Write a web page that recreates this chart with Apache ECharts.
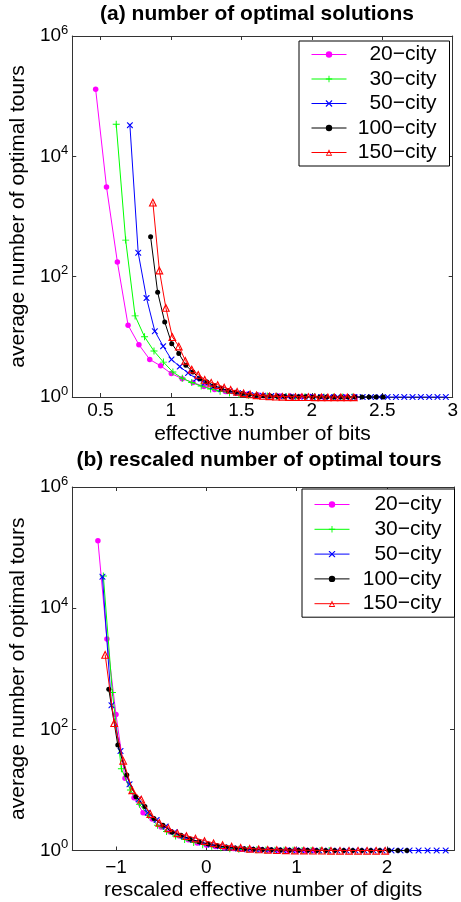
<!DOCTYPE html>
<html><head><meta charset="utf-8">
<script src="https://cdn.jsdelivr.net/npm/echarts@6/dist/echarts.min.js"></script>
<style>html,body{margin:0;padding:0;background:#fff}#c{width:461px;height:902px}</style>
</head><body><div id="c"></div>
<script>
// ---- data ----
const SERIES_NAMES = ['20−city', '30−city', '50−city', '100−city', '150−city'];

const X_BITS_20 = [0.466, 0.543, 0.620, 0.696, 0.773, 0.850, 0.927, 1.003, 1.080, 1.157, 1.234, 1.310, 1.387, 1.464, 1.541, 1.618, 1.694, 1.771, 1.848, 1.925, 2.001, 2.078, 2.155, 2.232, 2.309];
const X_RESC_20 = [-1.2, -1.1, -1.0, -0.9, -0.8, -0.7, -0.6, -0.5, -0.4, -0.3, -0.2, -0.1, 0, 0.1, 0.2, 0.3, 0.4, 0.5, 0.6, 0.7, 0.8, 0.9, 1.0, 1.1, 1.2];
const Y_20 = [130000, 3100, 176, 15.6, 7.4, 4.2, 3.3, 2.45, 2.02, 1.74, 1.5, 1.33, 1.23, 1.16, 1.11, 1.075, 1.05, 1.035, 1.025, 1.017, 1.012, 1.008, 1.005, 1.003, 1.002];

const X_BITS_30 = [0.612, 0.679, 0.746, 0.813, 0.880, 0.947, 1.014, 1.081, 1.148, 1.215, 1.282, 1.349, 1.416, 1.483, 1.550, 1.617, 1.684, 1.751, 1.818, 1.885, 1.952, 2.019, 2.086, 2.153, 2.220, 2.287];
const X_RESC_30 = [-1.14, -1.04, -0.94, -0.84, -0.74, -0.64, -0.54, -0.44, -0.34, -0.24, -0.14, -0.04, 0.06, 0.16, 0.26, 0.36, 0.46, 0.56, 0.66, 0.76, 0.86, 0.96, 1.06, 1.16, 1.26, 1.36];
const Y_30 = [34000, 405, 22.3, 10, 5.8, 3.8, 2.6, 2.05, 1.74, 1.52, 1.36, 1.25, 1.17, 1.11, 1.07, 1.05, 1.035, 1.025, 1.018, 1.012, 1.008, 1.005, 1.003, 1.002, 1.001, 1.0];

const X_BITS_50 = [0.709, 0.768, 0.827, 0.886, 0.945, 1.004, 1.063, 1.122, 1.181, 1.240, 1.299, 1.358, 1.417, 1.476, 1.535, 1.594, 1.653, 1.712, 1.771, 1.830, 1.889, 1.948, 2.007, 2.066, 2.125, 2.184, 2.243, 2.302, 2.361, 2.420, 2.479, 2.538, 2.597, 2.656, 2.715, 2.774, 2.833, 2.892, 2.951];
const X_RESC_50 = [-1.15, -1.05, -0.95, -0.85, -0.75, -0.65, -0.55, -0.45, -0.35, -0.25, -0.15, -0.05, 0.05, 0.15, 0.25, 0.35, 0.45, 0.55, 0.65, 0.75, 0.85, 0.95, 1.05, 1.15, 1.25, 1.35, 1.45, 1.55, 1.65, 1.75, 1.85, 1.95, 2.05, 2.15, 2.25, 2.35, 2.45, 2.55, 2.65];
const Y_50 = [33000, 249, 44, 12.4, 7.0, 4.2, 3.2, 2.5, 2.02, 1.72, 1.5, 1.35, 1.25, 1.17, 1.12, 1.08, 1.05, 1.035, 1.025, 1.018, 1.012, 1.008, 1.005, 1.003, 1.002, 1.001, 1, 1, 1, 1, 1, 1, 1, 1, 1, 1, 1, 1, 1];

const X_BITS_100 = [0.856, 0.906, 0.956, 1.006, 1.056, 1.106, 1.156, 1.206, 1.256, 1.306, 1.356, 1.406, 1.456, 1.506, 1.556, 1.606, 1.656, 1.706, 1.756, 1.806, 1.856, 1.906, 1.956, 2.006, 2.056, 2.106, 2.156, 2.206, 2.256, 2.306, 2.356, 2.406, 2.456, 2.506];
const X_RESC_100 = [-1.08, -0.98, -0.88, -0.78, -0.68, -0.58, -0.48, -0.38, -0.28, -0.18, -0.08, 0.02, 0.12, 0.22, 0.32, 0.42, 0.52, 0.62, 0.72, 0.82, 0.92, 1.02, 1.12, 1.22, 1.32, 1.42, 1.52, 1.62, 1.72, 1.82, 1.92, 2.02, 2.12, 2.22];
const Y_100 = [460, 55, 17.7, 7.7, 5.3, 3.37, 2.6, 2.02, 1.78, 1.55, 1.4, 1.28, 1.2, 1.14, 1.1, 1.07, 1.05, 1.035, 1.025, 1.018, 1.012, 1.008, 1.005, 1.003, 1.002, 1.001, 1, 1, 1, 1, 1, 1, 1, 1];

const X_BITS_150 = [0.872, 0.918, 0.964, 1.010, 1.056, 1.102, 1.148, 1.194, 1.240, 1.286, 1.332, 1.378, 1.424, 1.470, 1.516, 1.562, 1.608, 1.654, 1.700, 1.746, 1.792, 1.838, 1.884, 1.930, 1.976, 2.022, 2.068, 2.114, 2.160, 2.206, 2.252, 2.298];
const X_RESC_150 = [-1.12, -1.02, -0.92, -0.82, -0.72, -0.62, -0.52, -0.42, -0.32, -0.22, -0.12, -0.02, 0.08, 0.18, 0.28, 0.38, 0.48, 0.58, 0.68, 0.78, 0.88, 0.98, 1.08, 1.18, 1.28, 1.38, 1.48, 1.58, 1.68, 1.78, 1.88, 1.98];
const Y_150 = [1718, 128, 30.7, 10, 7.0, 4.05, 2.9, 2.36, 1.95, 1.75, 1.6, 1.45, 1.33, 1.24, 1.17, 1.12, 1.08, 1.055, 1.04, 1.028, 1.02, 1.014, 1.01, 1.007, 1.005, 1.003, 1.002, 1.001, 1, 1, 1, 1];

const X_TICKS_TOP = [0.5, 1, 1.5, 2, 2.5, 3];
const X_TICKS_BOTTOM = [-1, 0, 1, 2];

// ---- styles ----
const FONT = 'Liberation Sans, Arial, Helvetica, sans-serif';
const COLORS = ['#ff00ff', '#00ff00', '#0000ff', '#000000', '#ff0000'];
const PLUS = 'path://M4.3,0H5.7V4.3H10V5.7H5.7V10H4.3V5.7H0V4.3H4.3Z';
const CROSS = 'path://M0,0L1.3,0L5,3.7L8.7,0L10,0L10,1.3L6.3,5L10,8.7L10,10L8.7,10L5,6.3L1.3,10L0,10L0,8.7L3.7,5L0,1.3Z';
const TRI = 'path://M5,0L10,9L0,9ZM5,2.6L2.1,7.8L7.9,7.8Z';
const SYMBOLS = ['circle', PLUS, CROSS, 'circle', TRI];
const SIZES = [5.5, 7, 6, 5, 8.5];

const XS_TOP = [X_BITS_20, X_BITS_30, X_BITS_50, X_BITS_100, X_BITS_150];
const XS_BOT = [X_RESC_20, X_RESC_30, X_RESC_50, X_RESC_100, X_RESC_150];
const YS = [Y_20, Y_30, Y_50, Y_100, Y_150];

const AX = '#333';
function xAx(grid, pos, min, max, ticks, name, gap, margin) {
  const isMain = pos === 'bottom';
  return {
    type: 'value', gridIndex: grid, position: pos, min: min, max: max,
    axisLine: { show: true, onZero: false, lineStyle: { color: AX, width: 1 } },
    axisTick: { show: true, inside: true, length: 4, customValues: ticks, lineStyle: { color: AX } },
    axisLabel: { show: isMain, customValues: ticks, margin: margin, fontSize: 19, fontFamily: FONT, color: '#000',
      formatter: v => String(v).replace('-', '−') },
    splitLine: { show: false },
    name: isMain ? name : '', nameLocation: 'middle', nameGap: gap,
    nameTextStyle: { fontSize: 21, fontFamily: FONT, color: '#000' }
  };
}
function yAx(grid, pos) {
  const isMain = pos === 'left';
  return {
    type: 'log', logBase: 100, gridIndex: grid, position: pos, min: 1, max: 1000000,
    axisLine: { show: true, onZero: false, lineStyle: { color: AX, width: 1 } },
    axisTick: { show: true, inside: true, length: 4, lineStyle: { color: AX } },
    minorTick: { show: false },
    axisLabel: { show: isMain, margin: 4, color: '#000',
      formatter: v => '{b|10}{s|' + Math.round(Math.log10(v)) + '}',
      rich: { b: { fontSize: 19, fontFamily: FONT, color: '#000' },
              s: { fontSize: 13, fontFamily: FONT, color: '#000', padding: [0, 0, 12, 0] } } },
    splitLine: { show: false },
    name: isMain ? 'average number of optimal tours' : '', nameLocation: 'middle', nameGap: 39.5,
    nameTextStyle: { fontSize: 21, fontFamily: FONT, color: '#000' }
  };
}
function legend(left, top, pad, w, gap) {
  return {
    data: SERIES_NAMES, orient: 'vertical', left: left, top: top, padding: pad,
    borderColor: '#000', borderWidth: 1, borderRadius: 0, backgroundColor: '#fff',
    itemWidth: 35, itemHeight: 8, itemGap: gap, itemTextGap: 5,
    selectedMode: false,
    lineStyle: { width: 1 },
    formatter: n => '{t|' + n + '}',
    textStyle: { width: w, fontSize: 21, fontFamily: FONT, color: '#000', lineHeight: 20,
      rich: { t: { align: 'right', fontSize: 21, fontFamily: FONT, color: '#000', lineHeight: 20 } } }
  };
}
const series = [];
[0, 1].forEach(g => {
  SERIES_NAMES.forEach((name, i) => {
    const xs = g === 0 ? XS_TOP[i] : XS_BOT[i];
    series.push({
      name: name, type: 'line', xAxisIndex: g * 2, yAxisIndex: g * 2,
      data: xs.map((x, k) => [x, YS[i][k]]),
      symbol: SYMBOLS[i], symbolSize: SIZES[i], showAllSymbol: true,
      lineStyle: { width: 1, color: COLORS[i] },
      itemStyle: { color: COLORS[i], borderWidth: 0 },
      emphasis: { disabled: true }, silent: true, z: 2 + i
    });
  });
});

const chart = echarts.init(document.getElementById('c'), null, { renderer: 'canvas' });
chart.setOption({
  animation: false,
  backgroundColor: '#fff',
  title: [
    { text: '(a) number of optimal solutions', left: 257, top: 3.5, textAlign: 'center', padding: 0,
      textStyle: { fontSize: 21, fontWeight: 'bold', fontFamily: FONT, color: '#000' } },
    { text: '(b) rescaled number of optimal tours', left: 259, top: 449.5, textAlign: 'center', padding: 0,
      textStyle: { fontSize: 21, fontWeight: 'bold', fontFamily: FONT, color: '#000' } }
  ],
  grid: [
    { left: 62, top: 36, width: 391, height: 361, containLabel: false },
    { left: 61, top: 487, width: 393, height: 364, containLabel: false }
  ],
  xAxis: [
    xAx(0, 'bottom', 0.3, 3, X_TICKS_TOP, 'effective number of bits', 26.5, 4),
    xAx(0, 'top', 0.3, 3, X_TICKS_TOP, '', 0, 4),
    xAx(1, 'bottom', -1.484, 2.742, X_TICKS_BOTTOM, 'rescaled effective number of digits', 29.5, 8),
    xAx(1, 'top', -1.484, 2.742, X_TICKS_BOTTOM, '', 0, 4)
  ],
  yAxis: [yAx(0, 'left'), yAx(0, 'right'), yAx(1, 'left'), yAx(1, 'right')],
  legend: [legend(299, 41, [3, 13, 3, 12], 85, 3.5), legend(302, 489, [5, 13, 3, 12], 87, 3.8)],
  series: series
});
</script></body></html>
